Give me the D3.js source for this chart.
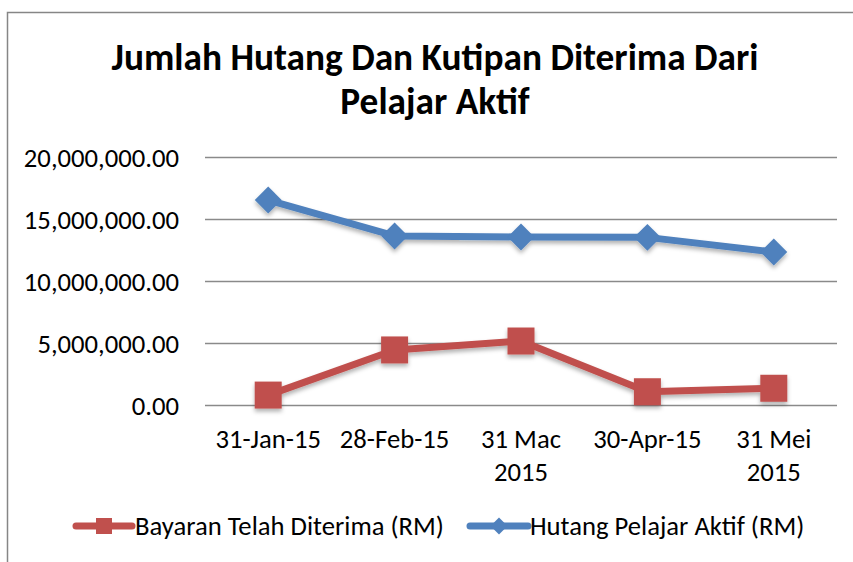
<!DOCTYPE html>
<html>
<head>
<meta charset="utf-8">
<script src="https://cdn.jsdelivr.net/npm/d3@7"></script>
<style>
  body { margin: 0; background: #fff; }
  text { font-family: Carlito, "Open Sans", sans-serif; fill: #000; }
</style>
</head>
<body>
<div id="chart"></div>
<script>
// data
const categories = ['31-Jan-15', '28-Feb-15', '31 Mac 2015', '30-Apr-15', '31 Mei 2015'];
const bayaran = [800000, 4440000, 5160000, 1070000, 1350000];
const hutang = [16530000, 13630000, 13550000, 13520000, 12340000];
const yTicks = [0, 5000000, 10000000, 15000000, 20000000];
const seriesNames = ['Bayaran Telah Diterima (RM)', 'Hutang Pelajar Aktif (RM)'];
const titleLines = ['Jumlah Hutang Dan Kutipan Diterima Dari', 'Pelajar Aktif'];

const width = 853, height = 562;
const margin = { top: 157, right: 16, bottom: 157, left: 205 };
const boundW = width - margin.left - margin.right;
const boundH = height - margin.top - margin.bottom;
const fontSize = '26.67px';

const svg = d3.select('#chart').append('svg')
    .attr('width', width)
    .attr('height', height);

// drop shadow like the office chart
const defs = svg.append('defs');
const shadow = defs.append('filter').attr('id', 'shadow')
    .attr('x', '-20%').attr('y', '-20%').attr('width', '140%').attr('height', '160%');
shadow.append('feDropShadow')
    .attr('dx', 0).attr('dy', 3).attr('stdDeviation', 2)
    .attr('flood-color', '#000').attr('flood-opacity', 0.3);

// frame
svg.append('path')
    .attr('d', `M7.5,${height} V12.5 H${width}`)
    .attr('fill', 'none')
    .attr('stroke', '#868686')
    .attr('stroke-width', 1.5);

// title
svg.append('text')
    .attr('text-anchor', 'middle')
    .style('font-weight', 'bold')
    .style('font-size', '37.33px')
    .selectAll('tspan')
    .data(titleLines)
    .join('tspan')
    .attr('x', 435)
    .attr('y', (d, i) => 70 + i * 44)
    .text(d => d);

const bounds = svg.append('g')
    .attr('transform', `translate(${margin.left},${margin.top})`);

//scales
const xScale = d3.scaleBand()
    .domain(categories)
    .range([0, boundW]);

const yScale = d3.scaleLinear()
    .domain([0, 20000000])
    .range([boundH, 0]);

// y axis with grid
const yAxisGenerator = d3.axisLeft(yScale)
    .tickValues(yTicks)
    .tickSize(-boundW)
    .tickPadding(26)
    .tickFormat(d3.format(',.2f'));

const yAxis = bounds.append('g').call(yAxisGenerator);
yAxis.select('.domain').remove();
yAxis.selectAll('line').attr('stroke', '#8a8a8a').attr('stroke-width', 1.3);
yAxis.selectAll('text')
    .style('font-size', fontSize)
    .attr('dy', '0.35em');

// x axis labels (wrapped)
const xLabels = bounds.append('g')
    .attr('transform', `translate(0,${boundH})`);
xLabels.selectAll('text')
    .data(categories)
    .join('text')
    .attr('text-anchor', 'middle')
    .style('font-size', fontSize)
    .each(function (d) {
        const parts = d.includes('-') ? [d] : [d.slice(0, d.lastIndexOf(' ')), d.slice(d.lastIndexOf(' ') + 1)];
        d3.select(this).selectAll('tspan')
            .data(parts)
            .join('tspan')
            .attr('x', xScale(d) + xScale.bandwidth() / 2)
            .attr('y', (p, i) => 43 + i * 32.5)
            .text(p => p);
    });

const cx = d => xScale(d) + xScale.bandwidth() / 2;
const lineGen = d3.line()
    .x((d, i) => cx(categories[i]))
    .y(d => yScale(d));

const colors = ['#C0504D', '#4F81BD'];
const seriesData = [bayaran, hutang];
// square for bayaran, square turned 45deg (diamond) for hutang
const markerSide = [27, 19];
const legendSide = [16, 12];
const markerPath = side => d3.symbol().type(d3.symbolSquare).size(side * side)();
const rot = s => (s === 1 ? ' rotate(45)' : '');

seriesData.forEach((vals, s) => {
    const g = bounds.append('g').attr('filter', 'url(#shadow)');
    g.append('path')
        .attr('d', lineGen(vals))
        .attr('fill', 'none')
        .attr('stroke', colors[s])
        .attr('stroke-width', 7)
        .attr('stroke-linejoin', 'round');
    g.selectAll('path.mark')
        .data(vals)
        .join('path')
        .attr('class', 'mark')
        .attr('transform', (d, i) => `translate(${cx(categories[i])},${yScale(d)})` + rot(s))
        .attr('d', markerPath(markerSide[s]))
        .attr('fill', colors[s]);
});

// legend
const legendItems = [
    { x: 76, w: 56, tx: 135 },
    { x: 470, w: 58, tx: 530 }
];
const legend = svg.append('g');
legendItems.forEach((it, s) => {
    const g = legend.append('g').attr('transform', `translate(0,526)`);
    g.append('line')
        .attr('x1', it.x).attr('x2', it.x + it.w)
        .attr('stroke', colors[s])
        .attr('stroke-width', 7)
        .attr('stroke-linecap', 'round');
    g.append('path')
        .attr('transform', `translate(${it.x + it.w / 2},0)` + rot(s))
        .attr('d', markerPath(legendSide[s]))
        .attr('fill', colors[s]);
    g.append('text')
        .attr('x', it.tx)
        .attr('dy', '0.35em')
        .style('font-size', fontSize)
        .text(seriesNames[s]);
});
</script>
</body>
</html>
